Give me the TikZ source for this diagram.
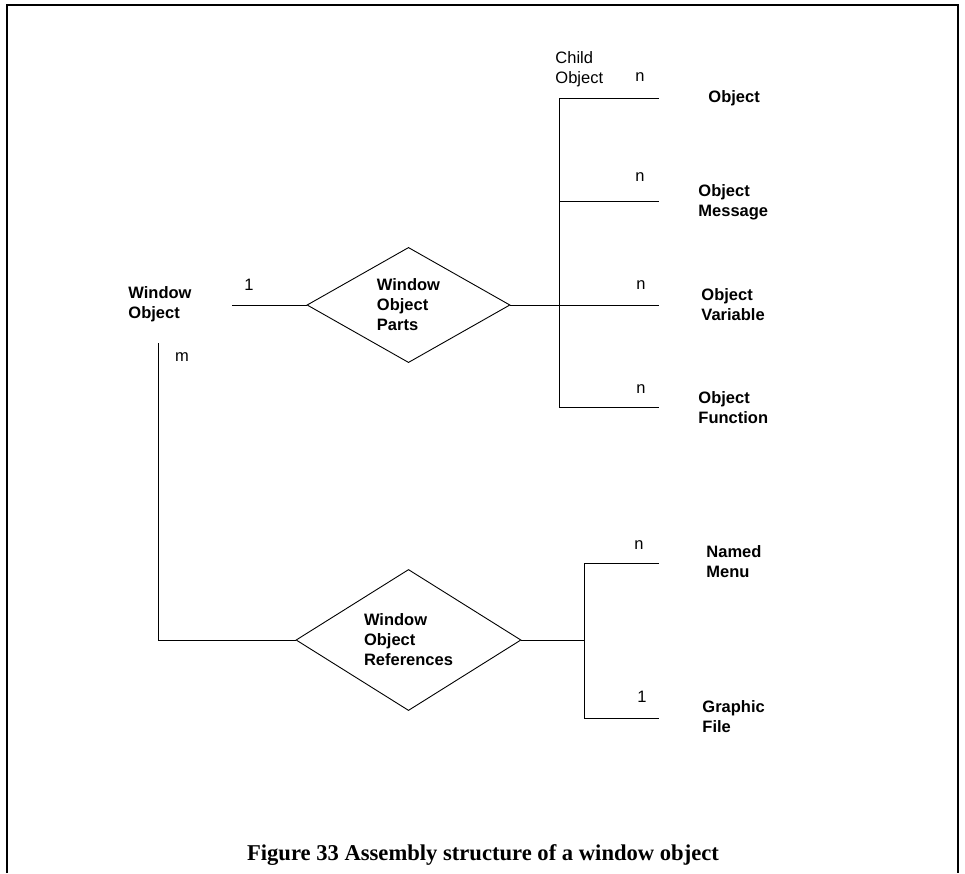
\documentclass[tikz,border=0pt]{standalone}
\usepackage{fontspec}
\usetikzlibrary{shapes.geometric}
\newfontfamily\labelfont{Liberation Sans}
\newfontfamily\captionfont{Liberation Serif}
\tikzset{
  entity/.style={font=\labelfont\bfseries\fontsize{16.5}{20}\selectfont,
    align=left, inner sep=0pt, anchor=west},
  relation/.style={draw, diamond, inner sep=0pt, align=left,
    font=\labelfont\bfseries\fontsize{16.5}{20}\selectfont},
  card/.style={font=\labelfont\fontsize{16.5}{20}\selectfont, inner sep=0pt},
}
\begin{document}
\begin{tikzpicture}[x=1pt,y=-1pt,line width=0.9pt]
  \useasboundingbox (0,0) rectangle (965,873);
  % page frame, open at the bottom
  \draw[line width=2pt] (7,873) -- (7,5) -- (958,5) -- (958,873);
  \draw
    (128,304) node[entity] (win){Window\\Object}
    (408.5,305) node[relation, minimum width=203pt, minimum height=105pt] (parts){Window\\Object\\Parts}
    (408.5,640) node[relation, minimum width=225pt, minimum height=116pt] (refs){Window\\Object\\References}
    (708,98) node[entity] (obj){Object}
    (698,202) node[entity] (msg){Object\\Message}
    (701,305) node[entity] (var){Object\\Variable}
    (698,408) node[entity] (fun){Object\\Function}
    (706,562) node[entity] (menu){Named\\Menu}
    (702,717) node[entity] (gfx){Graphic\\File}
    (555,69) node[card, anchor=west, align=left] (child){Child\\Object}
    (249,285) node[card] (c1){1}
    (182,357) node[card] (cm){m}
    (640,77) node[card] (n1){n}
    (640,177) node[card] (n2){n}
    (641,285) node[card] (n3){n}
    (641,389) node[card] (n4){n}
    (639,545) node[card] (n5){n}
    (642,697) node[card] (c6){1}
    (483,855) node[font=\captionfont\bfseries\fontsize{22.6}{27}\selectfont] (cap){Figure 33 Assembly structure of a window object};
  % free ends of the links
  \path
    (232,305) coordinate (win-r)
    (158,343) coordinate (win-b)
    (559,98) coordinate (pt)
    (559,407) coordinate (pb)
    (584,563) coordinate (rt)
    (584,718) coordinate (rb)
    (659,98) coordinate (e1)
    (659,201) coordinate (e2)
    (659,305) coordinate (e3)
    (659,407) coordinate (e4)
    (659,563) coordinate (e5)
    (659,718) coordinate (e6);
  \begin{scope}[-]
    \draw (win-r) to (parts);
    \draw (parts) to (e3);
    \draw (e1) -- (pt) -- (pb) -- (e4);
    \draw (pt |- e2) to (e2);
    \draw (win-b) |- (refs);
    \draw (refs) to (rt |- refs);
    \draw (e5) -- (rt) -- (rb) -- (e6);
  \end{scope}
\end{tikzpicture}
\end{document}
